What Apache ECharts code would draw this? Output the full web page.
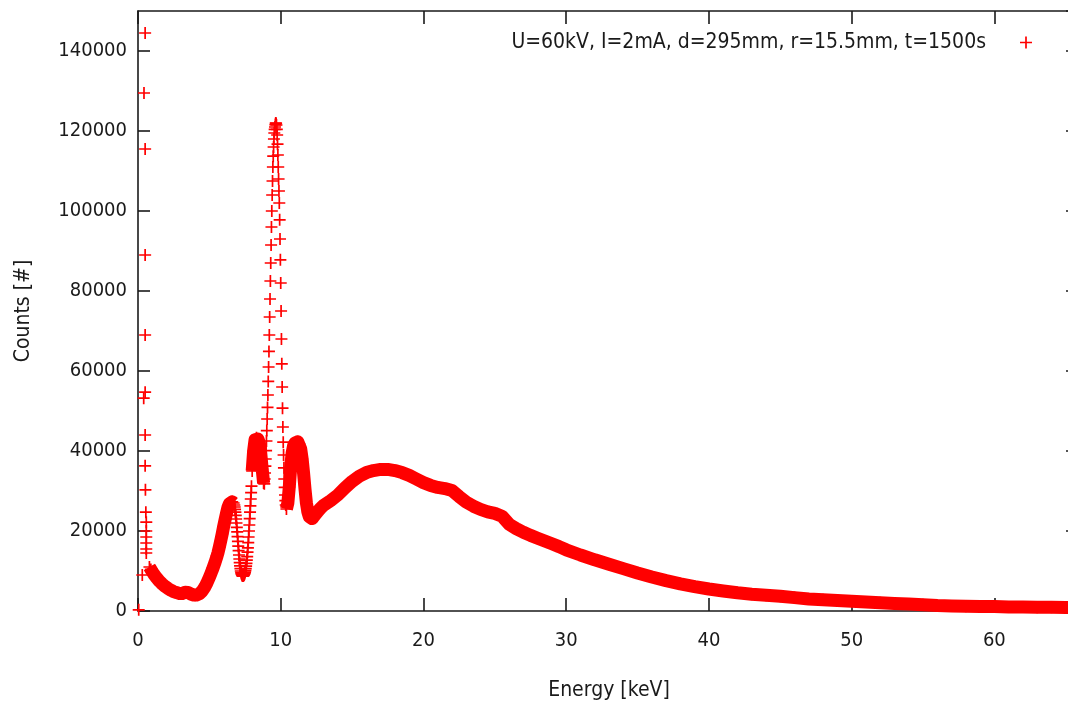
<!DOCTYPE html>
<html>
<head>
<meta charset="utf-8">
<script src="https://cdn.jsdelivr.net/npm/echarts@6/dist/echarts.min.js"></script>
<style>
  html, body { margin: 0; padding: 0; background: #ffffff; }
  #chart { width: 1068px; height: 706px; }
</style>
</head>
<body>
<div id="chart"></div>
<script>
// X-ray tube spectrum: counts per channel against photon energy.
const seriesLabel = 'U=60kV, I=2mA, d=295mm, r=15.5mm, t=1500s';
const energyTicks = [0, 10, 20, 30, 40, 50, 60];
const countTicks = [0, 20000, 40000, 60000, 80000, 100000, 120000, 140000];

// Detector noise spike just above zero energy.
const spikeEnergy = [0.05, 0.30, 0.58, 0.58, 0.58, 0.58, 0.58, 0.58, 0.55, 0.52,
                     0.50, 0.50, 0.40, 0.50, 0.50, 0.50, 0.50, 0.42, 0.50];
const spikeCounts = [300, 9000, 14500, 15500, 17000, 18500, 20000, 22200, 24700, 30300,
                     36300, 44000, 53200, 54700, 69000, 89000, 115500, 129500, 144500];

// Low-energy continuum and the 6.5 keV line, 0.8 .. 6.7 keV every 0.1 keV.
const lowStart = 0.8, lowStep = 0.1;
const lowCounts = [
  11000, 10400, 9800, 9250, 8750, 8300, 7850, 7450, 7100, 6750,
  6450, 6150, 5900, 5650, 5400, 5200, 5000, 4850, 4700, 4600,
  4500, 4400, 4350, 4400, 4550, 4700, 4750, 4650, 4450, 4250,
  4100, 4000, 3950, 4000, 4100, 4300, 4600, 5000, 5500, 6100,
  6800, 7600, 8400, 9300, 10200, 11200, 12200, 13300, 14500, 16000,
  17600, 19300, 21100, 22800, 24400, 25900, 26800, 27200, 27300, 27000
];

// Valley between the 6.5 keV and 8.3 keV lines, 6.75 .. 7.95 keV every 0.025 keV.
const valleyStart = 6.75, valleyStep = 0.025;
const valleyCounts = [
  26500, 26000, 25400, 24700, 23900, 23000, 22000, 20900, 19800, 18600,
  17400, 16200, 15100, 14000, 13000, 12100, 11300, 10600, 10000, 9600,
  9300, 9100, 8900, 8800, 8750, 8800, 8900, 9000, 9200, 9400,
  9700, 10100, 10600, 11200, 11900, 12700, 13600, 14700, 15800, 17100,
  18500, 20000, 21500, 23100, 24700, 26300, 28000, 29600, 31200
];

// 8.3 keV line, 8.0 .. 8.8 keV every 0.1 keV.
const shoulderStart = 8.0, shoulderStep = 0.1;
const shoulderCounts = [35000, 40000, 42800, 43300, 43000, 42000, 39500, 35500, 32000];

// Main line near 9.65 keV, 8.85 .. 10.35 keV every 0.025 keV.
const mainStart = 8.85, mainStep = 0.025;
const mainCounts = [
  31800, 33000, 34500, 36200, 38000, 40100, 42500, 45100, 48000, 50900,
  54000, 57400, 61000, 64900, 69000, 73500, 78000, 82500, 87000, 91500,
  96000, 100000, 104000, 107500, 111000, 113700, 116000, 118000, 119500, 120400,
  121000, 121600, 122000, 121900, 121500, 120400, 119000, 116700, 114000, 111000,
  108000, 105000, 102000, 97800, 93000, 87800, 82000, 75000, 68000, 61800,
  56000, 50700, 46000, 42200, 39000, 35800, 33000, 30900, 29000, 27600,
  26500
];

// 11.2 keV line, 10.4 .. 12.9 keV every 0.1 keV.
const gammaStart = 10.4, gammaStep = 0.1;
const gammaCounts = [
  25500, 27000, 31000, 36000, 39500, 41300, 42000, 42300, 42300, 41800,
  40500, 38000, 34500, 30500, 27000, 24800, 23600, 23100, 23100, 23500,
  24000, 24500, 24900, 25300, 25700, 26100
];

// Bremsstrahlung hump, 13 .. 30 keV every 0.5 keV.
const humpStart = 13.0, humpStep = 0.5;
const humpCounts = [
  26400, 27600, 29000, 30800, 32400, 33700, 34600, 35100, 35400, 35400,
  35100, 34600, 33900, 33000, 32100, 31400, 30900, 30600, 30100, 28600,
  27200, 26200, 25400, 24800, 24400, 23700, 21700, 20600, 19700, 18900,
  18200, 17500, 16800, 16100, 15300
];

// High-energy tail, 31 .. 66 keV every 1 keV.
const tailStart = 31, tailStep = 1;
const tailCounts = [
  14000, 12800, 11700, 10600, 9500, 8500, 7600, 6800, 6100, 5500,
  5000, 4550, 4200, 3950, 3700, 3350, 3000, 2800, 2650, 2450,
  2250, 2050, 1900, 1750, 1550, 1350, 1250, 1200, 1150, 1100,
  1000, 1000, 950, 950, 900, 900
];

const FONT = "'DejaVu Sans Condensed', 'DejaVu Sans', sans-serif";
const INK = '#1a1a1a';
const RED = '#ff0000';
// Plus-shaped marker drawn as a filled outline.
const CROSS = 'path://M5.15,0H6.85V5.15H12V6.85H6.85V12H5.15V6.85H0V5.15H5.15Z';

function channelPoints(start, step, counts) {
  return counts.map((c, i) => [Math.round((start + i * step) * 1000) / 1000, c]);
}

const lowPts = channelPoints(lowStart, lowStep, lowCounts);
const valleyPts = channelPoints(valleyStart, valleyStep, valleyCounts);
const shoulderPts = channelPoints(shoulderStart, shoulderStep, shoulderCounts);
const mainPts = channelPoints(mainStart, mainStep, mainCounts);
const gammaPts = channelPoints(gammaStart, gammaStep, gammaCounts);
const humpPts = channelPoints(humpStart, humpStep, humpCounts);
const tailPts = channelPoints(tailStart, tailStep, tailCounts);
const spikePts = spikeEnergy.map((e, i) => [e, spikeCounts[i]]);

const allPts = [].concat(spikePts, lowPts, valleyPts, shoulderPts, mainPts, gammaPts, humpPts, tailPts);

// Dense runs of markers merge into a solid band; draw that band along the smooth stretches.
function band(points) {
  return {
    type: 'line',
    data: points,
    symbol: 'none',
    showSymbol: false,
    silent: true,
    z: 2,
    lineStyle: { color: RED, width: 13, join: 'round', cap: 'butt', opacity: 1 }
  };
}

const axisLine = { show: true, onZero: false, lineStyle: { color: INK, width: 1.6 } };
const tickStyle = { color: INK, width: 1.6 };
const tickText = { fontFamily: FONT, fontSize: 20, color: INK };
const nameText = { fontFamily: FONT, fontSize: 21, color: INK };

const chart = echarts.init(document.getElementById('chart'), null, { renderer: 'canvas' });
chart.setOption({
  backgroundColor: '#ffffff',
  animation: false,
  grid: { left: 138, right: -12, top: 11, bottom: 95, containLabel: false, outerBoundsMode: 'none' },
  legend: {
    data: [seriesLabel],
    right: 31,
    top: 27,
    align: 'right',
    icon: CROSS,
    itemWidth: 12,
    itemHeight: 12,
    selectedMode: false,
    itemStyle: { opacity: 1 },
    textStyle: Object.assign({ padding: [0, 29, 0, 0] }, nameText)
  },
  xAxis: [
    {
      type: 'value', min: 0, max: 66, interval: 10, position: 'bottom',
      axisLine: axisLine,
      axisTick: { inside: true, length: 13, lineStyle: tickStyle },
      axisLabel: Object.assign({ margin: 20, showMaxLabel: false,
        formatter: v => energyTicks.includes(v) ? String(v) : '' }, tickText),
      splitLine: { show: false },
      name: 'Energy [keV]', nameLocation: 'middle', nameGap: 69,
      nameTextStyle: nameText
    },
    {
      type: 'value', min: 0, max: 66, interval: 10, position: 'top',
      axisLine: axisLine,
      axisTick: { inside: true, length: 13, lineStyle: tickStyle },
      axisLabel: { show: false },
      splitLine: { show: false }
    }
  ],
  yAxis: [
    {
      type: 'value', min: 0, max: 150000, interval: 20000, position: 'left',
      axisLine: axisLine,
      axisTick: { inside: true, length: 12, lineStyle: tickStyle },
      axisLabel: Object.assign({ margin: 11, showMaxLabel: false,
        formatter: v => countTicks.includes(v) ? String(v) : '' }, tickText),
      splitLine: { show: false },
      name: 'Counts [#]', nameLocation: 'middle', nameGap: 104,
      nameTextStyle: nameText
    },
    {
      type: 'value', min: 0, max: 150000, interval: 20000, position: 'right',
      axisLine: axisLine,
      axisTick: { inside: true, length: 14, lineStyle: tickStyle },
      axisLabel: { show: false },
      splitLine: { show: false }
    }
  ],
  series: [
    band(lowPts),
    band(shoulderPts),
    band([].concat(gammaPts, humpPts, tailPts)),
    {
      type: 'scatter',
      name: seriesLabel,
      data: allPts,
      symbol: CROSS,
      symbolSize: 12,
      silent: true,
      z: 3,
      itemStyle: { color: RED, opacity: 1 }
    }
  ]
});
</script>
</body>
</html>
